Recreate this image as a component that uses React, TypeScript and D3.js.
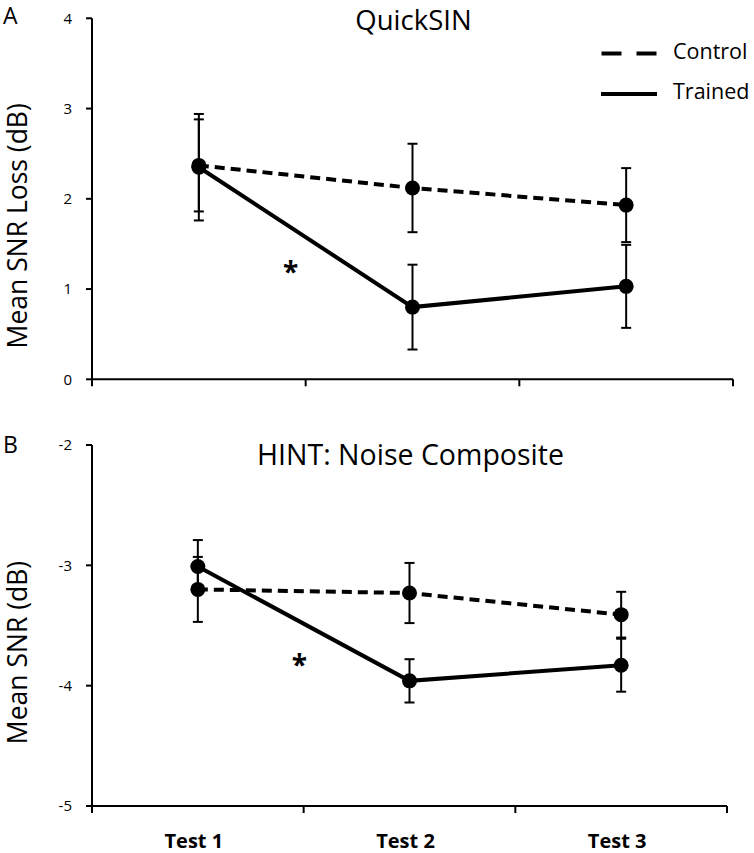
import React from "react";
import * as d3 from "d3";

const tests = ["Test 1", "Test 2", "Test 3"];

const quickControl = [2.37, 2.12, 1.93];
const quickControlErr = [0.51, 0.49, 0.41];
const quickTrained = [2.35, 0.8, 1.03];
const quickTrainedErr = [0.59, 0.47, 0.46];

const hintControl = [-3.2, -3.23, -3.41];
const hintControlErr = [0.27, 0.25, 0.19];
const hintTrained = [-3.01, -3.96, -3.83];
const hintTrainedErr = [0.22, 0.18, 0.22];

const quickTicks = [0, 1, 2, 3, 4];
const hintTicks = [-5, -4, -3, -2];

const FONT = "'Open Sans', 'Noto Sans', sans-serif";

type PanelProps = {
  letter: string;
  title: string;
  yLabel: string;
  yDomain: [number, number];
  yRange: [number, number];
  xRange: [number, number];
  ticks: number[];
  control: number[];
  controlErr: number[];
  trained: number[];
  trainedErr: number[];
  star: [number, number];
  letterY: number;
  titleY: number;
  titleSize: number;
  showLegend: boolean;
  showXLabels: boolean;
};

function Panel(p: PanelProps) {
  const x = d3.scaleBand<string>().domain(tests).range(p.xRange);
  const y = d3.scaleLinear().domain(p.yDomain).range(p.yRange);
  const cx = (i: number) => (x(tests[i]) as number) + x.bandwidth() / 2;
  const idx = d3.scaleLinear().domain([0, 1]).range([cx(0), cx(1)]);
  const line = d3
    .line<number>()
    .x((_, i) => cx(i))
    .y((d) => y(d));
  const y0 = p.yRange[0];
  const x0 = p.xRange[0];
  const x1 = p.xRange[1];
  const yTop = p.yRange[1];

  const errBars = (vals: number[], errs: number[], key: string) =>
    vals.map((v, i) => {
      const X = cx(i);
      const hi = y(v + errs[i]);
      const lo = y(v - errs[i]);
      return (
        <g key={key + i} stroke="#000" strokeWidth={2}>
          <line x1={X} x2={X} y1={hi} y2={lo} />
          <line x1={X - 5} x2={X + 5} y1={hi} y2={hi} />
          <line x1={X - 5} x2={X + 5} y1={lo} y2={lo} />
        </g>
      );
    });

  const midX = (p.xRange[0] + p.xRange[1]) / 2;

  return (
    <g>
      <text x={3} y={p.letterY} fontFamily={FONT} fontSize={23} fill="#000">
        {p.letter}
      </text>
      <text
        x={midX + 1}
        y={p.titleY}
        fontFamily={FONT}
        fontSize={p.titleSize}
        textAnchor="middle"
        fill="#000"
      >
        {p.title}
      </text>
      {/* axes */}
      <line x1={x0} x2={x0} y1={yTop} y2={y0 + 1} stroke="#000" strokeWidth={2} />
      <line x1={x0} x2={x1} y1={y0} y2={y0} stroke="#000" strokeWidth={2} />
      {p.ticks.map((t) => (
        <g key={"yt" + t}>
          <line x1={x0 - 6} x2={x0} y1={y(t)} y2={y(t)} stroke="#000" strokeWidth={2} />
          <text
            x={72}
            y={y(t)}
            dy="0.35em"
            textAnchor="end"
            fontFamily={FONT}
            fontSize={15}
            fill="#000"
          >
            {t}
          </text>
        </g>
      ))}
      {[...tests.map((t) => x(t) as number), x1].map((xx, i) => (
        <line key={"xt" + i} x1={xx} x2={xx} y1={y0} y2={y0 + 7} stroke="#000" strokeWidth={2} />
      ))}
      {p.showXLabels &&
        tests.map((t, i) => (
          <text
            key={"xl" + t}
            x={cx(i) - 4}
            y={848}
            textAnchor="middle"
            fontFamily={FONT}
            fontWeight="bold"
            fontSize={20}
            fill="#000"
          >
            {t}
          </text>
        ))}
      <text
        transform={`translate(${27},${(p.yRange[0] + p.yRange[1]) / 2 + 27}) rotate(-90)`}
        textAnchor="middle"
        fontFamily={FONT}
        fontSize={26.5}
        fill="#000"
      >
        {p.yLabel}
      </text>
      {/* error bars */}
      {errBars(p.control, p.controlErr, "ce")}
      {errBars(p.trained, p.trainedErr, "te")}
      {/* lines */}
      <path
        d={line(p.control) || ""}
        fill="none"
        stroke="#000"
        strokeWidth={4}
        strokeDasharray="10 6"
      />
      <path d={line(p.trained) || ""} fill="none" stroke="#000" strokeWidth={4} />
      {p.control.map((v, i) => (
        <circle key={"cc" + i} cx={cx(i)} cy={y(v)} r={7.5} fill="#000" />
      ))}
      {p.trained.map((v, i) => (
        <circle key={"tc" + i} cx={cx(i)} cy={y(v)} r={7.5} fill="#000" />
      ))}
      <text
        x={idx(p.star[0])}
        y={y(p.star[1]) + 16}
        textAnchor="middle"
        fontFamily={FONT}
        fontSize={28}
        fontWeight="bold"
        fill="#000"
      >
        *
      </text>
      {p.showLegend && (
        <g>
          <line x1={601.5} x2={657} y1={53.5} y2={53.5} stroke="#000" strokeWidth={4} strokeDasharray="20 15" />
          <line x1={601} x2={657} y1={94} y2={94} stroke="#000" strokeWidth={4} />
          <text x={673} y={58.5} fontFamily={FONT} fontSize={21.5} fill="#000">
            Control
          </text>
          <text x={673} y={99} fontFamily={FONT} fontSize={21.5} fill="#000">
            Trained
          </text>
        </g>
      )}
    </g>
  );
}

export default function App() {
  return (
    <svg
      width={754}
      height={853}
      style={{ position: "absolute", left: 0, top: 0, background: "#fff" }}
    >
      <rect width={754} height={853} fill="#fff" />
      <Panel
        letter="A"
        title="QuickSIN"
        yLabel="Mean SNR Loss (dB)"
        yDomain={[0, 4]}
        yRange={[379.3, 18.3]}
        xRange={[92, 733]}
        ticks={quickTicks}
        control={quickControl}
        controlErr={quickControlErr}
        trained={quickTrained}
        trainedErr={quickTrainedErr}
        star={[0.43, 1.26]}
        letterY={24}
        titleY={29.5}
        titleSize={27.5}
        showLegend={true}
        showXLabels={false}
      />
      <Panel
        letter="B"
        title="HINT: Noise Composite"
        yLabel="Mean SNR (dB)"
        yDomain={[-5, -2]}
        yRange={[806, 445]}
        xRange={[92, 727]}
        ticks={hintTicks}
        control={hintControl}
        controlErr={hintControlErr}
        trained={hintTrained}
        trainedErr={hintTrainedErr}
        star={[0.48, -3.78]}
        letterY={453}
        titleY={465}
        titleSize={28.5}
        showLegend={false}
        showXLabels={true}
      />
    </svg>
  );
}
